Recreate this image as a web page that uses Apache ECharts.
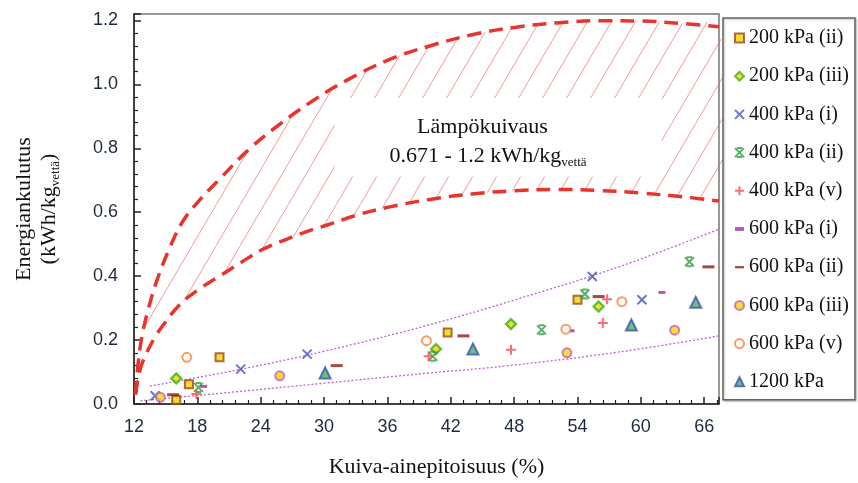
<!DOCTYPE html>
<html><head><meta charset="utf-8">
<script src="https://cdn.jsdelivr.net/npm/echarts@6/dist/echarts.min.js"></script>
<style>html,body{margin:0;padding:0;background:#fff}#c{width:858px;height:483px}</style>
</head><body><div id="c"></div>
<script>
// ---------- data ----------
const seriesNames = ['200 kPa (ii)','200 kPa (iii)','400 kPa (i)','400 kPa (ii)','400 kPa (v)',
  '600 kPa (i)','600 kPa (ii)','600 kPa (iii)','600 kPa (v)','1200 kPa'];
const p200ii  = [[16.0,0.013],[17.2,0.062],[20.1,0.146],[41.7,0.224],[54.0,0.326]];
const p200iii = [[16.0,0.080],[40.6,0.172],[47.7,0.250],[56.0,0.305]];
const p400i   = [[14.0,0.026],[22.1,0.109],[28.4,0.156],[55.4,0.399],[60.1,0.326]];
const p400ii  = [[18.1,0.052],[40.3,0.149],[50.6,0.232],[54.7,0.344],[64.6,0.445]];
const p400v   = [[17.9,0.031],[39.9,0.149],[47.7,0.170],[56.4,0.253],[56.8,0.328]];
const p600i   = [[18.6,0.055],[53.4,0.229],[62.0,0.349]];
const p600ii  = [[15.7,0.029],[31.2,0.120],[43.2,0.213],[56.0,0.336],[66.4,0.429]];
const p600iii = [[14.5,0.021],[25.8,0.088],[53.0,0.160],[63.2,0.231]];
const p600v   = [[17.0,0.146],[39.7,0.198],[52.9,0.234],[58.2,0.320]];
const p1200   = [[30.1,0.097],[44.1,0.172],[59.1,0.247],[65.2,0.318]];

// heat-drying band (upper and lower dashed curves)
const upperCurve = [[12.15,0.03],[12.4,0.13],[12.8,0.22],[13.3,0.29],[14.1,0.38],[15.4,0.49],[16.6,0.57],
  [18,0.63],[20,0.70],[23,0.80],[26,0.88],[29,0.95],[32,1.01],[36,1.075],[40,1.12],[44,1.155],
  [48,1.178],[52,1.192],[56,1.199],[60,1.198],[64,1.19],[67.4,1.18]];
const lowerCurve = [[12.15,0.03],[12.6,0.11],[13.2,0.16],[14,0.21],[14.7,0.244],[16.3,0.31],[18.2,0.36],
  [20.1,0.40],[22,0.44],[24.2,0.484],[26.5,0.516],[28.4,0.54],[30.3,0.56],[33,0.59],[36,0.615],
  [40,0.64],[44,0.657],[48,0.667],[52,0.671],[56,0.668],[60,0.66],[64,0.648],[67.4,0.635]];
// dotted envelope lines
const envUpper = [[13.5,0.056],[22,0.108],[30,0.165],[40,0.248],[48,0.325],[58,0.43],[67.4,0.547]];
const envLower = [[12.6,0.01],[20,0.033],[30,0.065],[40,0.097],[47.5,0.12],[58,0.163],[67.4,0.213]];

const xMin = 12, xMax = 67.4, xStep = 6;
const yMin = 0, yMax = 1.22, yStep = 0.2;
const noteLine1 = 'Lämpökuivaus';
const noteLine2 = '0.671 - 1.2 kWh/kg';
const noteSub = 'vettä';

// ---------- styling ----------
const serif = 'Liberation Serif';
const sans = 'Liberation Sans';
const yellow = '#f3d400';

const pat = document.createElement('canvas');
pat.width = 24; pat.height = 41;
(function(){
  const g = pat.getContext('2d');
  g.strokeStyle = 'rgba(240,100,100,0.75)';
  g.lineWidth = 0.9;
  g.beginPath(); g.moveTo(-1, 42.7); g.lineTo(25, -1.7); g.stroke();
})();

function scatter(name, data, symbol, size, style) {
  return { type:'scatter', name, data, symbol, symbolSize:size, itemStyle:style, z:5,
           emphasis:{disabled:true} };
}
const cross = 'path://M0,0L10,10M10,0L0,10';
const bars = 'path://M0,0L10,10M10,0L0,10M2,0L8,0M2,10L8,10';
const plus = 'path://M5,0L5,10M0,5L10,5';
const shortDash = 'path://M0,0L7,0L7,3L0,3Z';
const longDash = 'path://M0,0L12,0L12,3L0,3Z';

const legendData = seriesNames.map((n,i)=> i===5 ? {name:n, icon:shortDash} : i===6 ? {name:n, icon:longDash} : n);

const chart = echarts.init(document.getElementById('c'), null, {renderer:'canvas'});
const option = {
  animation:false,
  backgroundColor:'#fff',
  grid:{left:134, right:139, top:14, bottom:78, show:true, borderColor:'#777', borderWidth:1.5},
  xAxis:{type:'value', min:xMin, max:xMax, interval:xStep,
    name:'Kuiva-ainepitoisuus (%)', nameLocation:'middle', nameGap:52,
    nameTextStyle:{fontFamily:serif, fontSize:22, color:'#111', padding:[0,0,0,20]},
    axisLine:{show:true, lineStyle:{color:'#222', width:1.5}},
    axisTick:{show:true, inside:true, length:7, lineStyle:{color:'#222', width:1.5}},
    minorTick:{show:true, splitNumber:5, length:4, lineStyle:{color:'#222', width:1.2}},
    splitLine:{show:false},
    axisLabel:{showMaxLabel:false, fontFamily:sans, fontSize:18, color:'#1e2a40', margin:14,
      formatter:v=>String(Math.round(v))}
  },
  yAxis:{type:'value', min:yMin, max:yMax, interval:yStep,
    name:'{a|Energiankulutus}\n{a|(kWh/kg}{s|vettä}{a|)}', nameLocation:'middle', nameRotate:90, nameGap:72,
    nameTextStyle:{fontFamily:serif, fontSize:22, color:'#111',
      rich:{a:{fontFamily:serif, fontSize:22, color:'#111', lineHeight:25},
            s:{fontFamily:serif, fontSize:13, color:'#111', verticalAlign:'bottom', lineHeight:13}}},
    axisLine:{show:true, lineStyle:{color:'#222', width:1.5}},
    axisTick:{show:true, inside:true, length:7, lineStyle:{color:'#222', width:1.5}},
    minorTick:{show:true, splitNumber:5, length:4, lineStyle:{color:'#222', width:1.2}},
    splitLine:{show:false},
    axisLabel:{showMaxLabel:false, fontFamily:sans, fontSize:18, color:'#1e2a40', margin:16,
      formatter:v=>v.toFixed(1)}
  },
  legend:{orient:'vertical', left:723, top:18, padding:[10,6,8,11],
    data:legendData, itemWidth:9, itemHeight:9, itemGap:18.2, symbolKeepAspect:true,
    borderColor:'#666', borderWidth:1.5, backgroundColor:'#fff',
    shadowColor:'rgba(0,0,0,0.25)', shadowBlur:2, shadowOffsetX:1, shadowOffsetY:1,
    textStyle:{fontFamily:serif, fontSize:20, color:'#111', lineHeight:20},
    selectedMode:false},
  series:[
    {type:'custom', name:'band', coordinateSystem:'cartesian2d', data:[[xMin,yMin]], z:1, silent:true,
      renderItem:function(params, api){
        const pts = [];
        upperCurve.forEach(p=>pts.push(api.coord(p)));
        for (let i=lowerCurve.length-1;i>=0;i--) pts.push(api.coord(lowerCurve[i]));
        return {type:'polygon', shape:{points:pts, smooth:0.3}, style:{fill:{image:pat, repeat:'repeat'}, stroke:null}};
      }},
    {type:'line', name:'upper', data:upperCurve, smooth:0.4, symbol:'none', z:3, silent:true,
      lineStyle:{color:'#e8342c', width:3.5, type:[14,8]}},
    {type:'line', name:'lower', data:lowerCurve, smooth:0.4, symbol:'none', z:3, silent:true,
      lineStyle:{color:'#e8342c', width:3.5, type:[14,8]}},
    {type:'line', name:'envU', data:envUpper, smooth:0.4, symbol:'none', z:2, silent:true,
      lineStyle:{color:'#c060cc', width:1.3, type:[2,2]}},
    {type:'line', name:'envL', data:envLower, smooth:0.4, symbol:'none', z:2, silent:true,
      lineStyle:{color:'#c060cc', width:1.3, type:[2,2]}},
    scatter(seriesNames[0], p200ii, 'rect', 8, {color:yellow, borderColor:'#9a4a1a', borderWidth:2}),
    scatter(seriesNames[1], p200iii, 'diamond', 10, {color:yellow, borderColor:'#3cb01c', borderWidth:2.3}),
    scatter(seriesNames[2], p400i, cross, 9, {color:'#4a50c8', borderColor:'#4a50c8', borderWidth:2}),
    scatter(seriesNames[3], p400ii, bars, 9, {color:'#2f9f3f', borderColor:'#2f9f3f', borderWidth:2}),
    scatter(seriesNames[4], p400v, plus, 10, {color:'#ff4a4a', borderColor:'#ff4a4a', borderWidth:2}),
    scatter(seriesNames[5], p600i, 'rect', [7,3], {color:'#9b2fa8'}),
    scatter(seriesNames[6], p600ii, 'rect', [12,3], {color:'#8b1c1c'}),
    scatter(seriesNames[7], p600iii, 'circle', 9, {color:yellow, borderColor:'#c45cc8', borderWidth:2}),
    scatter(seriesNames[8], p600v, 'circle', 9, {color:'#fff', borderColor:'#ff7f40', borderWidth:2}),
    scatter(seriesNames[9], p1200, 'triangle', 11, {color:'#4cb050', borderColor:'#3a52b8', borderWidth:2})
  ]
};
chart.setOption(option);

// annotation box with text (anchored in data units)
const boxA = chart.convertToPixel({gridIndex:0}, [31.0, 0.957]);
const boxB = chart.convertToPixel({gridIndex:0}, [62.0, 0.712]);
const t1 = chart.convertToPixel({gridIndex:0}, [45.0, 0.866]);
const t2 = chart.convertToPixel({gridIndex:0}, [36.2, 0.775]);
chart.setOption({graphic:[
  {type:'rect', z:4, shape:{x:boxA[0], y:boxA[1], width:boxB[0]-boxA[0], height:boxB[1]-boxA[1]}, style:{fill:'#fff'}, silent:true},
  {type:'text', z:6, x:t1[0], y:t1[1], style:{text:noteLine1, font:'22px "Liberation Serif"', fill:'#111', align:'center', verticalAlign:'middle'}},
  {type:'text', z:6, x:t2[0], y:t2[1], style:{text:'{a|'+noteLine2+'}{s|'+noteSub+'}', align:'left', verticalAlign:'middle',
    rich:{a:{font:'22px "Liberation Serif"', fill:'#111', lineHeight:25}, s:{font:'13px "Liberation Serif"', fill:'#111', verticalAlign:'bottom', lineHeight:13}}}}
]});
</script>
</body></html>
